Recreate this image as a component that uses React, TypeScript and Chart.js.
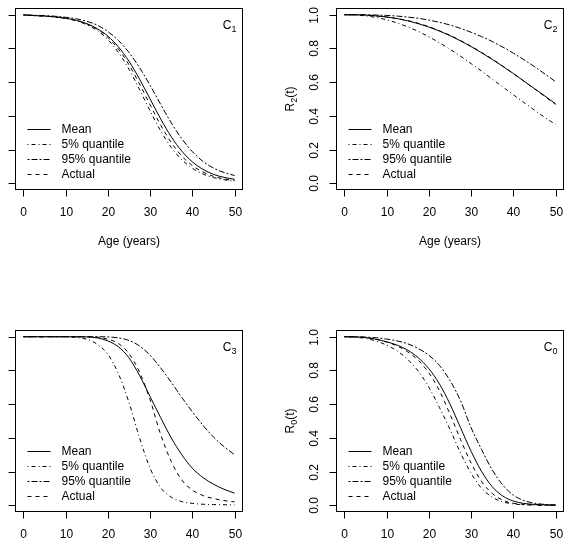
import React, { useEffect, useRef } from 'react';
import { Chart, registerables } from 'chart.js';

Chart.register(...registerables);

// ---- data ----
const ages = [0, 2.5, 5, 7.5, 10, 12.5, 15, 17.5, 20, 22.5, 25, 27.5, 30, 32.5, 35, 37.5, 40, 42.5, 45, 47.5, 50];
const xTicks = [0, 10, 20, 30, 40, 50];
const yTicks = [0, 0.2, 0.4, 0.6, 0.8, 1.0];
const yTickLabels = ['0.0', '0.2', '0.4', '0.6', '0.8', '1.0'];
const legendLabels = ['Mean', '5% quantile', '95% quantile', 'Actual'];
const xTitle = 'Age (years)';

// C1
const c1Mean = [0.999, 0.995, 0.992, 0.987, 0.979, 0.967, 0.947, 0.917, 0.873, 0.809, 0.724, 0.618, 0.5, 0.382, 0.276, 0.191, 0.127, 0.083, 0.053, 0.035, 0.024];
const c1Q05 = [0.999, 0.995, 0.992, 0.987, 0.978, 0.964, 0.941, 0.906, 0.853, 0.776, 0.676, 0.556, 0.429, 0.311, 0.213, 0.14, 0.089, 0.055, 0.034, 0.021, 0.013];
const c1Q95 = [1.0, 0.997, 0.995, 0.991, 0.985, 0.976, 0.961, 0.938, 0.9, 0.847, 0.776, 0.686, 0.581, 0.468, 0.359, 0.264, 0.188, 0.13, 0.09, 0.064, 0.046];
const c1Actual = [0.999, 0.995, 0.992, 0.987, 0.979, 0.966, 0.946, 0.914, 0.865, 0.796, 0.703, 0.589, 0.465, 0.345, 0.242, 0.162, 0.105, 0.067, 0.041, 0.026, 0.016];

// C2
const c2Mean = [1.0, 1.0, 0.998, 0.993, 0.987, 0.977, 0.964, 0.947, 0.927, 0.903, 0.876, 0.845, 0.811, 0.774, 0.735, 0.694, 0.651, 0.606, 0.562, 0.517, 0.472];
const c2Q05 = [1.0, 0.999, 0.993, 0.984, 0.97, 0.951, 0.928, 0.901, 0.869, 0.834, 0.795, 0.754, 0.71, 0.665, 0.618, 0.572, 0.525, 0.479, 0.434, 0.39, 0.349];
const c2Q95 = [1.0, 1.0, 1.0, 0.998, 0.996, 0.992, 0.986, 0.979, 0.968, 0.955, 0.939, 0.919, 0.896, 0.87, 0.841, 0.808, 0.772, 0.733, 0.692, 0.648, 0.603];
const c2Actual = [1.0, 0.999, 0.997, 0.993, 0.986, 0.977, 0.965, 0.949, 0.929, 0.905, 0.878, 0.847, 0.813, 0.776, 0.737, 0.695, 0.651, 0.606, 0.56, 0.514, 0.468];

// C3
const c3Mean = [1, 1, 1, 1, 1, 1, 0.999, 0.993, 0.975, 0.94, 0.875, 0.77, 0.645, 0.52, 0.4, 0.3, 0.22, 0.165, 0.125, 0.095, 0.072];
const c3Q05 = [1, 1, 1, 1, 1, 0.996, 0.985, 0.955, 0.895, 0.78, 0.61, 0.4, 0.22, 0.105, 0.048, 0.022, 0.011, 0.006, 0.004, 0.003, 0.002];
const c3Q95 = [1, 1, 1, 1, 1, 1, 1, 1, 0.999, 0.993, 0.978, 0.945, 0.89, 0.815, 0.73, 0.64, 0.555, 0.475, 0.405, 0.348, 0.3];
const c3Actual = [1, 1, 1, 1, 1, 1, 1, 0.997, 0.985, 0.96, 0.9, 0.79, 0.625, 0.42, 0.26, 0.15, 0.09, 0.058, 0.04, 0.028, 0.02];

// C0
const c0Mean = [1, 0.999, 0.995, 0.985, 0.97, 0.95, 0.92, 0.875, 0.81, 0.72, 0.6, 0.46, 0.32, 0.2, 0.11, 0.055, 0.025, 0.011, 0.005, 0.002, 0.001];
const c0Q05 = [1, 0.997, 0.99, 0.975, 0.95, 0.915, 0.865, 0.795, 0.7, 0.58, 0.45, 0.31, 0.19, 0.1, 0.048, 0.02, 0.008, 0.003, 0.001, 0, 0];
const c0Q95 = [1, 1, 0.998, 0.994, 0.986, 0.975, 0.958, 0.93, 0.89, 0.83, 0.74, 0.62, 0.46, 0.33, 0.21, 0.12, 0.06, 0.028, 0.012, 0.005, 0.002];
const c0Actual = [1, 0.999, 0.995, 0.985, 0.968, 0.945, 0.91, 0.86, 0.785, 0.68, 0.54, 0.39, 0.25, 0.14, 0.07, 0.03, 0.012, 0.005, 0.002, 0.001, 0];

// ---- styles / layout ----
const DASHES: number[][] = [[], [1, 3, 4, 3], [2, 2, 6, 2], [4, 4]];
const FONT = '"Liberation Sans", Arial, Helvetica, sans-serif';
const PL = 60, PT = 4, PR = 2, PB = 62;
const BOX_W = 228, BOX_H = 182;
const CW = PL + BOX_W + PR, CH = PT + BOX_H + PB;

const panels = [
  { key: 'c1', sub: '1', boxLeft: 15, boxTop: 8, series: [c1Mean, c1Q05, c1Q95, c1Actual] },
  { key: 'c2', sub: '2', boxLeft: 336, boxTop: 8, series: [c2Mean, c2Q05, c2Q95, c2Actual] },
  { key: 'c3', sub: '3', boxLeft: 15, boxTop: 330, series: [c3Mean, c3Q05, c3Q95, c3Actual] },
  { key: 'c0', sub: '0', boxLeft: 336, boxTop: 330, series: [c0Mean, c0Q05, c0Q95, c0Actual] },
];

function drawSubText(ctx: CanvasRenderingContext2D, base: string, sub: string, rest: string, x: number, y: number, align: 'center' | 'right') {
  ctx.font = `12px ${FONT}`;
  const wb = ctx.measureText(base).width;
  const wr = ctx.measureText(rest).width;
  ctx.font = `9px ${FONT}`;
  const ws = ctx.measureText(sub).width;
  const total = wb + ws + wr;
  let sx = align === 'center' ? x - total / 2 : x - total;
  ctx.textAlign = 'left';
  ctx.textBaseline = 'alphabetic';
  ctx.font = `12px ${FONT}`;
  ctx.fillText(base, sx, y);
  ctx.font = `9px ${FONT}`;
  ctx.fillText(sub, sx + wb, y + 3);
  ctx.font = `12px ${FONT}`;
  if (rest) ctx.fillText(rest, sx + wb + ws, y);
}

const axesPlugin = {
  id: 'rAxes',
  afterDraw(chart: any) {
    const { ctx, chartArea, scales } = chart;
    const { left, right, top, bottom } = chartArea;
    const xs = scales.x, ys = scales.y;
    const sub = chart.options.plugins.rAxes.sub as string;
    ctx.save();
    ctx.strokeStyle = '#000';
    ctx.fillStyle = '#000';
    ctx.lineWidth = 1;
    ctx.setLineDash([]);
    // box
    const x0 = Math.round(left) + 0.5, x1 = Math.round(right) - 0.5;
    const y0 = Math.round(top) + 0.5, y1 = Math.round(bottom) - 0.5;
    ctx.strokeRect(x0, y0, x1 - x0, y1 - y0);
    // x ticks
    ctx.font = `12px ${FONT}`;
    ctx.textAlign = 'center';
    ctx.textBaseline = 'middle';
    xTicks.forEach((v) => {
      const px = Math.round(xs.getPixelForValue(v)) + 0.5;
      ctx.beginPath();
      ctx.moveTo(px, y1);
      ctx.lineTo(px, y1 + 7);
      ctx.stroke();
      ctx.fillText(String(v), px, y1 + 23);
    });
    // y ticks
    yTicks.forEach((v, i) => {
      const py = Math.round(ys.getPixelForValue(v)) + 0.5;
      ctx.beginPath();
      ctx.moveTo(x0, py);
      ctx.lineTo(x0 - 7, py);
      ctx.stroke();
      ctx.save();
      ctx.translate(x0 - 22, py);
      ctx.rotate(-Math.PI / 2);
      ctx.textAlign = 'center';
      ctx.textBaseline = 'middle';
      ctx.font = `12px ${FONT}`;
      ctx.fillText(yTickLabels[i], 0, 0);
      ctx.restore();
    });
    // x title
    ctx.textAlign = 'center';
    ctx.textBaseline = 'middle';
    ctx.fillText(xTitle, (x0 + x1) / 2, y1 + 52);
    // y title R_k(t)
    ctx.save();
    ctx.translate(x0 - 43, ys.getPixelForValue(0.5));
    ctx.rotate(-Math.PI / 2);
    drawSubText(ctx, 'R', sub, '(t)', 0, 0, 'center');
    ctx.restore();
    // panel annotation C_k
    drawSubText(ctx, 'C', sub, '', x1 - 6, y0 + 20, 'right');
    // legend
    legendLabels.forEach((lab, i) => {
      const ly = Math.round(y1 - 61 + 15 * i) + 0.5;
      ctx.setLineDash(DASHES[i]);
      ctx.beginPath();
      ctx.moveTo(x0 + 12, ly);
      ctx.lineTo(x0 + 35, ly);
      ctx.stroke();
      ctx.setLineDash([]);
      ctx.font = `12px ${FONT}`;
      ctx.textAlign = 'left';
      ctx.textBaseline = 'middle';
      ctx.fillText(lab, x0 + 46, ly);
    });
    ctx.restore();
  },
};

function Panel({ p }: { p: (typeof panels)[number] }) {
  const ref = useRef<HTMLCanvasElement>(null);
  useEffect(() => {
    const chart = new Chart(ref.current as HTMLCanvasElement, {
      type: 'line',
      data: {
        datasets: p.series.map((s, i) => ({
          label: legendLabels[i],
          data: ages.map((a, j) => ({ x: a, y: s[j] })),
          borderColor: '#000',
          borderWidth: 1,
          borderDash: DASHES[i],
          pointRadius: 0,
          fill: false,
          cubicInterpolationMode: 'monotone' as const,
        })),
      },
      options: {
        animation: false,
        responsive: false,
        devicePixelRatio: 1,
        events: [],
        layout: { padding: { left: PL, top: PT, right: PR, bottom: PB } },
        scales: {
          x: { type: 'linear', display: false, min: -2, max: 52 },
          y: { type: 'linear', display: false, min: -0.04, max: 1.04 },
        },
        plugins: {
          legend: { display: false },
          tooltip: { enabled: false },
          rAxes: { sub: p.sub },
        } as any,
      },
      plugins: [axesPlugin],
    });
    return () => chart.destroy();
  }, [p]);
  return (
    <canvas
      ref={ref}
      width={CW}
      height={CH}
      style={{ position: 'absolute', left: p.boxLeft - PL, top: p.boxTop - PT, width: CW, height: CH }}
    />
  );
}

export default function App() {
  return (
    <div
      style={{
        position: 'fixed',
        left: 0,
        top: 0,
        width: 564,
        height: 555,
        overflow: 'hidden',
        background: '#fff',
      }}
    >
      {panels.map((p) => (
        <Panel key={p.key} p={p} />
      ))}
    </div>
  );
}
